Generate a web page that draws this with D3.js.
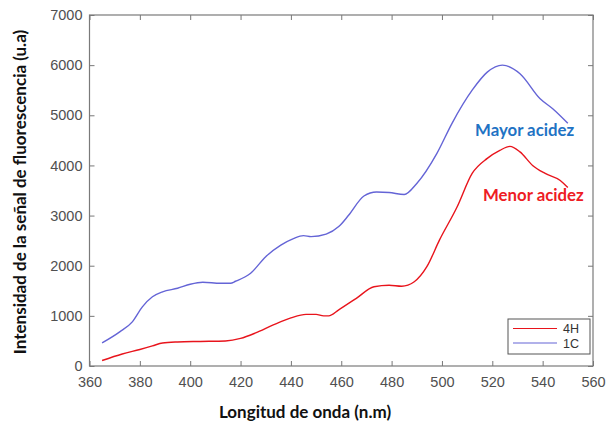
<!DOCTYPE html>
<html>
<head>
  <meta charset="utf-8">
  <style>
  body { margin: 0; background: #fff; }
  .axis text { font-family: "Liberation Sans", Arial, sans-serif; font-size: 14.5px; fill: #505050; }
  .axis .domain { display: none; }
  .axis line { stroke: #777; }
  </style>
  <script src="https://cdn.jsdelivr.net/npm/d3@7"></script>
</head>
<body>
  <script>
  // wavelength (nm) and intensity (u.a)
  var wl1C  = [365, 372, 377, 381, 385, 389, 395, 400, 405, 412, 416, 418, 424, 430, 436, 441, 445, 448, 454, 459, 463, 469, 474, 479, 485, 490, 498, 504, 512, 518, 524, 531, 539, 544, 550];
  var val1C = [460, 680, 880, 1180, 1380, 1480, 1550, 1630, 1670, 1650, 1650, 1690, 1850, 2180, 2410, 2540, 2600, 2580, 2630, 2780, 3010, 3390, 3470, 3460, 3420, 3640, 4240, 4840, 5500, 5860, 6000, 5830, 5330, 5130, 4840];
  var wl4H  = [365, 373, 380, 385, 389, 395, 404, 414, 420, 426, 433, 440, 446, 450, 453, 455, 459, 466, 473, 479, 484, 489, 494, 499, 506, 512, 518, 523, 527, 531, 536, 541, 547, 550];
  var val4H = [110, 240, 330, 400, 460, 480, 490, 500, 550, 660, 820, 960, 1030, 1030, 1000, 1000, 1120, 1350, 1580, 1610, 1590, 1680, 1980, 2510, 3170, 3840, 4140, 4300, 4380, 4270, 4000, 3840, 3700, 3560];
  var xTicks = [360, 380, 400, 420, 440, 460, 480, 500, 520, 540, 560];
  var yTicks = [0, 1000, 2000, 3000, 4000, 5000, 6000, 7000];
  var seriesNames = ["4H", "1C"];
  var seriesColors = ["#e8141c", "#6464d6"];

  var canvasWidth = 609, canvasHeight = 426;
  var plotLeft = 89.5, plotRight = 593, plotTop = 15, plotBottom = 366;

  var svg = d3.select("body").append("svg")
      .attr("width", canvasWidth)
      .attr("height", canvasHeight);

  var x = d3.scaleLinear().domain([360, 560]).range([plotLeft, plotRight]);
  var y = d3.scaleLinear().domain([0, 7000]).range([plotBottom, plotTop]);

  // ticks pointing inward on all four sides
  svg.append("g").attr("class", "axis")
      .attr("transform", "translate(0," + plotBottom + ")")
      .call(d3.axisBottom(x).tickValues(xTicks).tickFormat(d3.format("d"))
        .tickSizeInner(-5).tickSizeOuter(0).tickPadding(11));
  svg.append("g").attr("class", "axis")
      .attr("transform", "translate(0," + plotTop + ")")
      .call(d3.axisTop(x).tickValues(xTicks).tickSizeInner(-5).tickSizeOuter(0).tickFormat(""));
  svg.append("g").attr("class", "axis")
      .attr("transform", "translate(" + plotLeft + ",0)")
      .call(d3.axisLeft(y).tickValues(yTicks).tickFormat(d3.format("d"))
        .tickSizeInner(-5).tickSizeOuter(0).tickPadding(7));
  svg.append("g").attr("class", "axis")
      .attr("transform", "translate(" + plotRight + ",0)")
      .call(d3.axisRight(y).tickValues(yTicks).tickSizeInner(-5).tickSizeOuter(0).tickFormat(""));

  svg.append("rect")
      .attr("x", plotLeft).attr("y", plotTop)
      .attr("width", plotRight - plotLeft).attr("height", plotBottom - plotTop)
      .attr("fill", "none").attr("stroke", "#7a7a7a").attr("stroke-width", 1.2);

  var line = d3.line()
      .x(function(d) { return x(d[0]); })
      .y(function(d) { return y(d[1]); })
      .curve(d3.curveMonotoneX);

  var series = [d3.zip(wl4H, val4H), d3.zip(wl1C, val1C)];
  series.forEach(function(s, i) {
    svg.append("path")
        .datum(s)
        .attr("d", line)
        .attr("fill", "none")
        .attr("stroke", seriesColors[i])
        .attr("stroke-width", 1.4);
  });

  // annotations
  svg.append("text")
      .attr("x", 475).attr("y", 136)
      .attr("font-family", "Lato, 'Open Sans', sans-serif")
      .attr("font-weight", "bold").attr("font-size", 16.8)
      .attr("fill", "#1f73c4")
      .text("Mayor acidez");
  svg.append("text")
      .attr("x", 483).attr("y", 201)
      .attr("font-family", "Lato, 'Open Sans', sans-serif")
      .attr("font-weight", "bold").attr("font-size", 16.8)
      .attr("fill", "#ee1c24")
      .text("Menor acidez");

  // legend
  var legend = svg.append("g").attr("transform", "translate(508,319)");
  legend.append("rect")
      .attr("width", 82).attr("height", 35)
      .attr("fill", "#fff").attr("stroke", "#555").attr("stroke-width", 1);
  var item = legend.selectAll("g.item")
      .data(seriesNames)
      .enter().append("g")
      .attr("class", "item")
      .attr("transform", function(d, i) { return "translate(0," + (9.5 + i * 14.5) + ")"; });
  item.append("line")
      .attr("x1", 5).attr("x2", 49)
      .attr("stroke", function(d, i) { return seriesColors[i]; })
      .attr("stroke-width", 1.2);
  item.append("text")
      .attr("x", 71).attr("dy", "0.36em")
      .attr("text-anchor", "end")
      .attr("font-family", "'Liberation Sans', Arial, sans-serif")
      .attr("font-size", 12.5).attr("fill", "#333")
      .text(function(d) { return d; });

  // axis titles
  svg.append("text")
      .attr("x", 305).attr("y", 418)
      .attr("text-anchor", "middle")
      .attr("font-family", "Lato, 'Open Sans', sans-serif")
      .attr("font-weight", "bold").attr("font-size", 17)
      .attr("fill", "#111")
      .text("Longitud de onda (n.m)");
  svg.append("text")
      .attr("transform", "translate(26,192) rotate(-90)")
      .attr("text-anchor", "middle")
      .attr("font-family", "Lato, 'Open Sans', sans-serif")
      .attr("font-weight", "bold").attr("font-size", 17)
      .attr("fill", "#111")
      .text("Intensidad de la señal de fluorescencia (u.a)");
  </script>
</body>
</html>
